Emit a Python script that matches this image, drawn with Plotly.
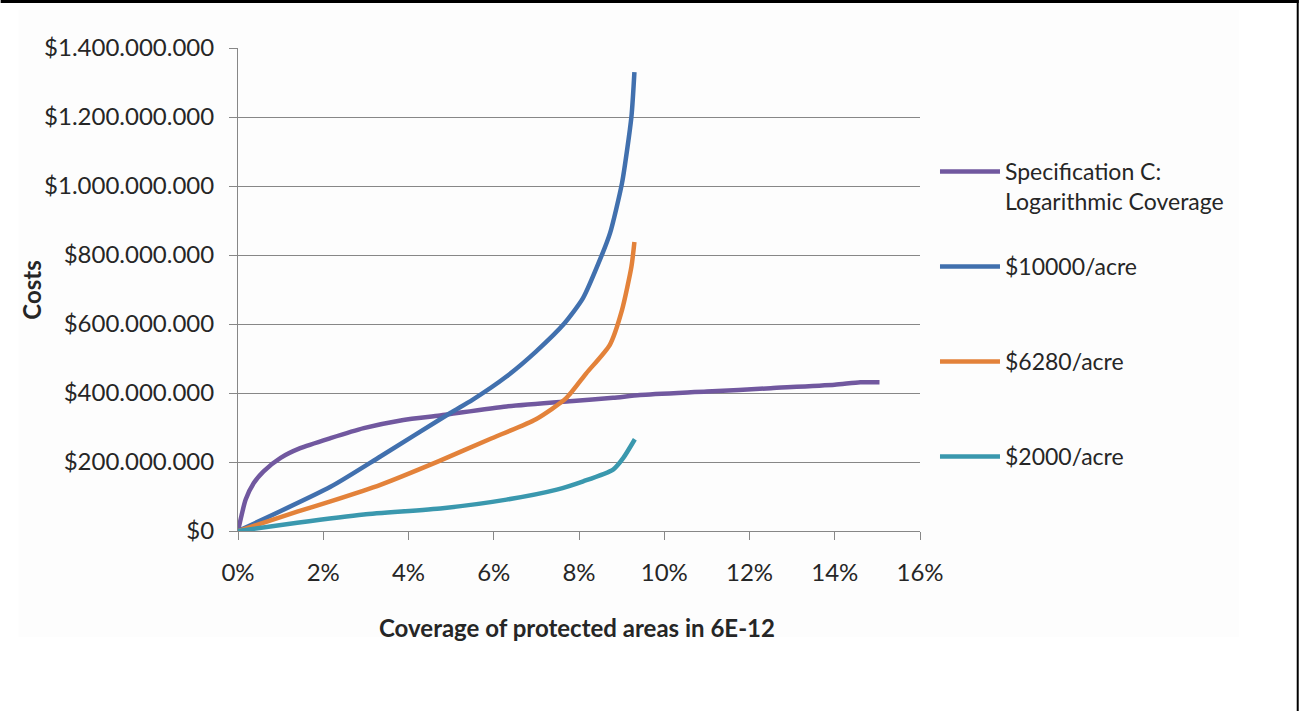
import plotly.graph_objects as go

# ---- data (x in % coverage, y in million $) ----
spec_x = [0, 0.18, 0.37, 0.6, 1.0, 1.46, 2.17, 2.95, 3.88, 4.74, 6.3, 7.86, 8.8, 9.43, 11.0, 12.5, 14.0, 14.6, 15.05]
spec_y = [0, 91, 139, 173, 212, 240, 269, 298, 322, 335, 361, 377, 386, 394, 404, 414, 424, 431, 431]

p10000_x = [0, 2.17, 3.34, 4.98, 5.5, 6.29, 6.99, 7.66, 8.09, 8.52, 8.73, 9.01, 9.23, 9.30]
p10000_y = [0, 128, 216, 342, 380, 447, 520, 602, 674, 795, 864, 1009, 1201, 1330]

p6280_x = [0, 1.39, 2.17, 3.34, 4.7, 5.9, 6.99, 7.7, 8.17, 8.72, 9.01, 9.23, 9.30]
p6280_y = [0, 56, 86, 134, 202, 266, 324, 385, 457, 539, 641, 766, 838]

p2000_x = [0, 1.39, 2.95, 4.8, 6.3, 7.48, 8.1, 8.8, 9.04, 9.31]
p2000_y = [0, 24, 48, 66, 91, 120, 144, 178, 212, 266]

series_names = ["Specification C:<br>Logarithmic Coverage", "$10000/acre", "$6280/acre", "$2000/acre"]
series_colors = ["#71589F", "#4170AE", "#E3823A", "#3A98AE"]

x_tickvals = [0, 0.02, 0.04, 0.06, 0.08, 0.10, 0.12, 0.14, 0.16]
y_tickvals = [0, 2e8, 4e8, 6e8, 8e8, 1e9, 1.2e9, 1.4e9]

FONT = "Lato, 'Open Sans', sans-serif"
TXT = "#262626"
GRID = "#878787"

# plot-area geometry in pixels
W, H = 1299, 711
L, R, T, B = 237.5, 920, 48, 531


def px2paper_x(px):
    return (px - L) / (R - L)


def px2paper_y(py):
    return (B - py) / (B - T)


fig = go.Figure()
data = [(spec_x, spec_y), (p10000_x, p10000_y), (p6280_x, p6280_y), (p2000_x, p2000_y)]
legend_ids = ["legend", "legend2", "legend3", "legend4"]
for (xs, ys), name, col, lg in zip(data, series_names, series_colors, legend_ids):
    fig.add_trace(go.Scatter(
        x=[v / 100 for v in xs], y=[v * 1e6 for v in ys],
        mode="lines", name=name, legend=lg,
        line=dict(color=col, width=4.5, shape="spline", smoothing=0.6),
        line_simplify=False,
    ))

legend_y_px = [172, 267, 362, 457]
legend_common = dict(
    x=px2paper_x(935), xanchor="left",
    bgcolor="rgba(0,0,0,0)", borderwidth=0,
    font=dict(family=FONT, size=23, color=TXT),
    itemwidth=60, valign="top", tracegroupgap=0,
)
layout_legends = {}
for lg, py in zip(legend_ids, legend_y_px):
    layout_legends[lg] = dict(legend_common, y=px2paper_y(py - 22), yanchor="top")

fig.update_layout(
    width=W, height=H,
    margin=dict(l=L, r=W - R, t=T, b=H - B, pad=0),
    paper_bgcolor="white", plot_bgcolor="rgba(0,0,0,0)",
    separators=",.",
    showlegend=True,
    font=dict(family=FONT, color=TXT),
    **layout_legends,
)

fig.update_xaxes(
    range=[0, 0.16], tickvals=x_tickvals, tickformat=".0%",
    showgrid=False, zeroline=False,
    showline=True, linecolor=GRID, linewidth=1,
    ticks="outside", ticklen=8, tickcolor=GRID, tickwidth=1,
    tickfont=dict(family=FONT, size=24, color=TXT),
    ticklabelstandoff=12,
)
fig.update_yaxes(
    range=[0, 1.4e9], tickvals=y_tickvals, tickformat="$,.0f",
    showgrid=True, gridcolor=GRID, gridwidth=1, zeroline=False,
    showline=True, linecolor=GRID, linewidth=1,
    ticks="outside", ticklen=8, tickcolor=GRID, tickwidth=1,
    tickfont=dict(family=FONT, size=24, color=TXT),
    ticklabelstandoff=10,
)

# axis titles
fig.add_annotation(text="<b>Coverage of protected areas in 6E-12</b>", xref="paper", yref="paper",
                   x=px2paper_x(577), y=px2paper_y(627), xanchor="center", yanchor="middle",
                   showarrow=False, font=dict(family=FONT, size=24, color=TXT))
fig.add_annotation(text="<b>Costs</b>", xref="paper", yref="paper",
                   x=px2paper_x(30), y=px2paper_y(290), xanchor="center", yanchor="middle",
                   textangle=-90, showarrow=False, font=dict(family=FONT, size=24, color=TXT))

# chart-area background and page frame
fig.add_shape(type="rect", xref="paper", yref="paper", layer="below", line_width=0,
              x0=px2paper_x(18), x1=px2paper_x(1239), y0=px2paper_y(637), y1=px2paper_y(10),
              fillcolor="#FDFDFD")
fig.add_shape(type="rect", xref="paper", yref="paper", layer="above", line_width=0,
              x0=px2paper_x(0), x1=px2paper_x(1299), y0=px2paper_y(3), y1=px2paper_y(0),
              fillcolor="black")
fig.add_shape(type="rect", xref="paper", yref="paper", layer="above", line_width=0,
              x0=px2paper_x(1297), x1=px2paper_x(1299), y0=px2paper_y(711), y1=px2paper_y(0),
              fillcolor="black")

fig.write_html("out.html", config={"displayModeBar": False},
               post_script="document.body.style.margin='0';document.body.style.padding='0';")
